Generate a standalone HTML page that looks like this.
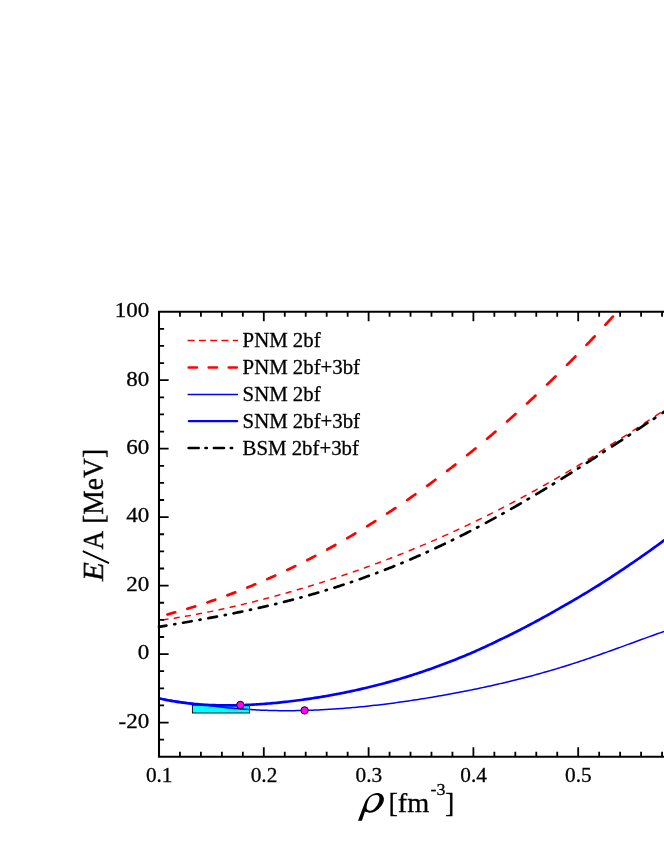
<!DOCTYPE html>
<html><head><meta charset="utf-8"><title>E/A vs density</title>
<style>html,body{margin:0;padding:0;background:#fff;}body{width:664px;height:860px;overflow:hidden;font-family:"Liberation Serif",serif;}svg{display:block;}text{font-family:"Liberation Serif",serif;fill:#000;stroke:#000;stroke-width:0.3px;}</style>
</head><body>
<svg width="664" height="860" viewBox="0 0 664 860">
<rect x="0" y="0" width="664" height="860" fill="#ffffff"/>
<rect x="192.4" y="705.1" width="57.2" height="7.9" fill="#00ffff" stroke="#000" stroke-width="0.9"/>
<path d="M159.00 698.76 L161.00 699.01 L162.99 699.27 L164.99 699.53 L166.98 699.80 L168.98 700.07 L170.98 700.34 L172.97 700.61 L174.97 700.89 L176.96 701.17 L178.96 701.45 L180.96 701.74 L182.95 702.02 L184.95 702.30 L186.95 702.59 L188.94 702.87 L190.94 703.15 L192.93 703.43 L194.93 703.71 L196.93 703.99 L198.92 704.26 L200.92 704.53 L202.91 704.80 L204.91 705.07 L206.91 705.33 L208.90 705.59 L210.90 705.85 L212.89 706.10 L214.89 706.35 L216.89 706.59 L218.88 706.83 L220.88 707.06 L222.87 707.29 L224.87 707.51 L226.87 707.71 L228.86 707.90 L230.86 708.08 L232.85 708.26 L234.85 708.44 L236.85 708.60 L238.84 708.76 L240.84 708.92 L242.84 709.07 L244.83 709.21 L246.83 709.35 L248.82 709.48 L250.82 709.60 L252.82 709.72 L254.81 709.83 L256.81 709.94 L258.80 710.04 L260.80 710.13 L262.80 710.21 L264.79 710.29 L266.79 710.36 L268.78 710.43 L270.78 710.49 L272.78 710.54 L274.77 710.58 L276.77 710.62 L278.76 710.65 L280.76 710.67 L282.76 710.69 L284.75 710.70 L286.75 710.70 L288.75 710.70 L290.74 710.69 L292.74 710.68 L294.73 710.65 L296.73 710.62 L298.73 710.59 L300.72 710.54 L302.72 710.50 L304.71 710.44 L306.71 710.38 L308.71 710.31 L310.70 710.24 L312.70 710.16 L314.69 710.07 L316.69 709.98 L318.69 709.88 L320.68 709.78 L322.68 709.69 L324.67 709.59 L326.67 709.48 L328.67 709.36 L330.66 709.25 L332.66 709.12 L334.65 708.99 L336.65 708.86 L338.65 708.72 L340.64 708.57 L342.64 708.42 L344.64 708.26 L346.63 708.10 L348.63 707.94 L350.62 707.77 L352.62 707.59 L354.62 707.41 L356.61 707.22 L358.61 707.04 L360.60 706.84 L362.60 706.64 L364.60 706.44 L366.59 706.23 L368.59 706.02 L370.58 705.80 L372.58 705.58 L374.58 705.36 L376.57 705.13 L378.57 704.90 L380.56 704.66 L382.56 704.42 L384.56 704.17 L386.55 703.93 L388.55 703.67 L390.55 703.42 L392.54 703.16 L394.54 702.89 L396.53 702.63 L398.53 702.35 L400.53 702.08 L402.52 701.80 L404.52 701.51 L406.51 701.22 L408.51 700.93 L410.51 700.63 L412.50 700.33 L414.50 700.02 L416.49 699.72 L418.49 699.41 L420.49 699.09 L422.48 698.77 L424.48 698.45 L426.47 698.13 L428.47 697.80 L430.47 697.47 L432.46 697.14 L434.46 696.80 L436.45 696.46 L438.45 696.11 L440.45 695.76 L442.44 695.41 L444.44 695.06 L446.44 694.70 L448.43 694.34 L450.43 693.97 L452.42 693.60 L454.42 693.23 L456.42 692.86 L458.41 692.48 L460.41 692.09 L462.40 691.71 L464.40 691.32 L466.40 690.92 L468.39 690.52 L470.39 690.12 L472.38 689.72 L474.38 689.31 L476.38 688.90 L478.37 688.48 L480.37 688.06 L482.36 687.64 L484.36 687.21 L486.36 686.78 L488.35 686.34 L490.35 685.90 L492.35 685.46 L494.34 685.01 L496.34 684.55 L498.33 684.10 L500.33 683.64 L502.33 683.17 L504.32 682.70 L506.32 682.23 L508.31 681.75 L510.31 681.27 L512.31 680.78 L514.30 680.29 L516.30 679.79 L518.29 679.29 L520.29 678.78 L522.29 678.27 L524.28 677.76 L526.28 677.24 L528.27 676.71 L530.27 676.18 L532.27 675.65 L534.26 675.11 L536.26 674.56 L538.25 674.01 L540.25 673.46 L542.25 672.90 L544.24 672.34 L546.24 671.77 L548.24 671.19 L550.23 670.61 L552.23 670.03 L554.22 669.44 L556.22 668.85 L558.22 668.25 L560.21 667.64 L562.21 667.03 L564.20 666.41 L566.20 665.79 L568.20 665.16 L570.19 664.52 L572.19 663.89 L574.18 663.24 L576.18 662.60 L578.18 661.94 L580.17 661.29 L582.17 660.62 L584.16 659.96 L586.16 659.29 L588.16 658.61 L590.15 657.93 L592.15 657.25 L594.15 656.56 L596.14 655.87 L598.14 655.18 L600.13 654.48 L602.13 653.78 L604.13 653.07 L606.12 652.37 L608.12 651.66 L610.11 650.94 L612.11 650.23 L614.11 649.51 L616.10 648.78 L618.10 648.06 L620.09 647.34 L622.09 646.61 L624.09 645.88 L626.08 645.15 L628.08 644.42 L630.07 643.69 L632.07 642.96 L634.07 642.23 L636.06 641.49 L638.06 640.76 L640.05 640.03 L642.05 639.31 L644.05 638.58 L646.04 637.85 L648.04 637.13 L650.04 636.41 L652.03 635.69 L654.03 634.98 L656.02 634.27 L658.02 633.57 L660.02 632.87 L662.01 632.17 L664.01 631.48 L666.00 630.81 L668.00 630.14" fill="none" stroke="#0000ff" stroke-width="1.5"/>
<path d="M159.00 698.32 L161.00 698.79 L162.99 699.24 L164.99 699.67 L166.98 700.08 L168.98 700.48 L170.98 700.85 L172.97 701.21 L174.97 701.54 L176.96 701.86 L178.96 702.17 L180.96 702.46 L182.95 702.73 L184.95 702.99 L186.95 703.23 L188.94 703.46 L190.94 703.67 L192.93 703.87 L194.93 704.05 L196.93 704.22 L198.92 704.38 L200.92 704.53 L202.91 704.66 L204.91 704.78 L206.91 704.89 L208.90 704.99 L210.90 705.07 L212.89 705.15 L214.89 705.21 L216.89 705.26 L218.88 705.31 L220.88 705.34 L222.87 705.36 L224.87 705.37 L226.87 705.38 L228.86 705.37 L230.86 705.35 L232.85 705.33 L234.85 705.29 L236.85 705.25 L238.84 705.20 L240.84 705.14 L242.84 705.07 L244.83 705.00 L246.83 704.92 L248.82 704.83 L250.82 704.73 L252.82 704.62 L254.81 704.51 L256.81 704.39 L258.80 704.26 L260.80 704.12 L262.80 703.98 L264.79 703.83 L266.79 703.68 L268.78 703.51 L270.78 703.34 L272.78 703.16 L274.77 702.98 L276.77 702.79 L278.76 702.59 L280.76 702.39 L282.76 702.18 L284.75 701.96 L286.75 701.74 L288.75 701.51 L290.74 701.27 L292.74 701.03 L294.73 700.78 L296.73 700.53 L298.73 700.27 L300.72 700.00 L302.72 699.72 L304.71 699.44 L306.71 699.16 L308.71 698.87 L310.70 698.57 L312.70 698.26 L314.69 697.95 L316.69 697.64 L318.69 697.31 L320.68 696.99 L322.68 696.65 L324.67 696.31 L326.67 695.97 L328.67 695.61 L330.66 695.26 L332.66 694.89 L334.65 694.52 L336.65 694.14 L338.65 693.76 L340.64 693.37 L342.64 692.98 L344.64 692.57 L346.63 692.17 L348.63 691.75 L350.62 691.33 L352.62 690.90 L354.62 690.47 L356.61 690.03 L358.61 689.58 L360.60 689.13 L362.60 688.67 L364.60 688.20 L366.59 687.73 L368.59 687.25 L370.58 686.77 L372.58 686.28 L374.58 685.78 L376.57 685.27 L378.57 684.76 L380.56 684.24 L382.56 683.71 L384.56 683.18 L386.55 682.64 L388.55 682.10 L390.55 681.55 L392.54 680.99 L394.54 680.42 L396.53 679.85 L398.53 679.27 L400.53 678.68 L402.52 678.08 L404.52 677.47 L406.51 676.85 L408.51 676.23 L410.51 675.60 L412.50 674.97 L414.50 674.33 L416.49 673.68 L418.49 673.02 L420.49 672.35 L422.48 671.68 L424.48 671.01 L426.47 670.32 L428.47 669.63 L430.47 668.93 L432.46 668.22 L434.46 667.51 L436.45 666.78 L438.45 666.05 L440.45 665.32 L442.44 664.58 L444.44 663.83 L446.44 663.07 L448.43 662.30 L450.43 661.53 L452.42 660.75 L454.42 659.96 L456.42 659.17 L458.41 658.37 L460.41 657.56 L462.40 656.74 L464.40 655.92 L466.40 655.09 L468.39 654.25 L470.39 653.40 L472.38 652.53 L474.38 651.65 L476.38 650.77 L478.37 649.87 L480.37 648.97 L482.36 648.06 L484.36 647.15 L486.36 646.23 L488.35 645.30 L490.35 644.36 L492.35 643.42 L494.34 642.46 L496.34 641.51 L498.33 640.54 L500.33 639.57 L502.33 638.61 L504.32 637.65 L506.32 636.68 L508.31 635.70 L510.31 634.71 L512.31 633.72 L514.30 632.72 L516.30 631.71 L518.29 630.70 L520.29 629.68 L522.29 628.65 L524.28 627.62 L526.28 626.58 L528.27 625.53 L530.27 624.48 L532.27 623.42 L534.26 622.35 L536.26 621.28 L538.25 620.20 L540.25 619.11 L542.25 618.02 L544.24 616.92 L546.24 615.81 L548.24 614.70 L550.23 613.58 L552.23 612.46 L554.22 611.33 L556.22 610.19 L558.22 609.05 L560.21 607.91 L562.21 606.78 L564.20 605.65 L566.20 604.51 L568.20 603.36 L570.19 602.21 L572.19 601.05 L574.18 599.89 L576.18 598.72 L578.18 597.55 L580.17 596.37 L582.17 595.18 L584.16 593.99 L586.16 592.79 L588.16 591.59 L590.15 590.38 L592.15 589.16 L594.15 587.94 L596.14 586.71 L598.14 585.48 L600.13 584.24 L602.13 582.96 L604.13 581.68 L606.12 580.39 L608.12 579.10 L610.11 577.80 L612.11 576.50 L614.11 575.19 L616.10 573.87 L618.10 572.55 L620.09 571.22 L622.09 569.88 L624.09 568.54 L626.08 567.20 L628.08 565.84 L630.07 564.49 L632.07 563.12 L634.07 561.75 L636.06 560.38 L638.06 558.99 L640.05 557.60 L642.05 556.21 L644.05 554.81 L646.04 553.40 L648.04 551.98 L650.04 550.56 L652.03 549.13 L654.03 547.70 L656.02 546.26 L658.02 544.81 L660.02 543.35 L662.01 541.89 L664.01 540.42 L666.00 538.95 L668.00 537.47" fill="none" stroke="#0000ff" stroke-width="2.7"/>
<path d="M163.14 619.81 L164.32 619.64 L165.50 619.47 L166.68 619.30 L167.86 619.13 M174.33 618.14 L175.51 617.96 L176.69 617.77 L177.87 617.58 L179.05 617.38 M185.52 616.29 L186.70 616.09 L187.88 615.88 L189.06 615.67 L190.24 615.46 M196.71 614.28 L197.89 614.06 L199.07 613.83 L200.25 613.60 L201.43 613.38 M207.90 612.10 L209.08 611.86 L210.26 611.62 L211.44 611.38 L212.63 611.14 M219.08 609.78 L220.27 609.52 L221.45 609.27 L222.63 609.01 L223.82 608.75 M230.27 607.31 L231.46 607.04 L232.64 606.77 L233.83 606.49 L235.01 606.22 M241.46 604.70 L242.65 604.42 L243.83 604.14 L245.02 603.85 L246.20 603.56 M252.65 601.97 L253.83 601.67 L255.02 601.37 L256.21 601.07 L257.39 600.77 M263.84 599.11 L265.02 598.80 L266.21 598.49 L267.40 598.17 L268.59 597.86 M275.02 596.12 L276.21 595.80 L277.40 595.47 L278.59 595.15 L279.78 594.82 M286.21 593.02 L287.40 592.68 L288.59 592.34 L289.78 592.00 L290.97 591.66 M297.40 589.79 L298.59 589.44 L299.78 589.09 L300.97 588.74 L302.16 588.38 M308.59 586.45 L309.78 586.09 L310.97 585.72 L312.16 585.35 L313.35 584.99 M319.78 582.98 L320.97 582.61 L322.16 582.23 L323.35 581.85 L324.55 581.47 M330.96 579.40 L332.16 579.01 L333.35 578.62 L334.54 578.23 L335.74 577.83 M342.15 575.69 L343.35 575.29 L344.54 574.88 L345.74 574.48 L346.93 574.07 M353.34 571.86 L354.53 571.45 L355.73 571.03 L356.93 570.61 L358.12 570.19 M364.53 567.91 L365.72 567.48 L366.92 567.04 L368.12 566.61 L369.32 566.17 M375.71 563.82 L376.91 563.38 L378.11 562.93 L379.31 562.48 L380.51 562.03 M386.90 559.61 L388.10 559.15 L389.30 558.69 L390.50 558.22 L391.70 557.76 M398.09 555.26 L399.29 554.78 L400.49 554.31 L401.69 553.83 L402.89 553.35 M409.27 550.77 L410.48 550.28 L411.68 549.79 L412.88 549.30 L414.09 548.80 M420.46 546.15 L421.67 545.65 L422.87 545.14 L424.08 544.63 L425.28 544.12 M431.65 541.39 L432.85 540.86 L434.06 540.34 L435.27 539.82 L436.47 539.29 M442.84 536.48 L444.04 535.94 L445.25 535.40 L446.46 534.86 L447.67 534.31 M454.02 531.43 L455.23 530.87 L456.44 530.31 L457.65 529.75 L458.86 529.19 M465.21 526.22 L466.42 525.65 L467.63 525.08 L468.84 524.50 L470.05 523.93 M476.40 520.88 L477.61 520.29 L478.82 519.70 L480.03 519.10 L481.25 518.51 M487.58 515.38 L488.80 514.77 L490.01 514.16 L491.23 513.55 L492.44 512.94 M498.77 509.73 L499.98 509.11 L501.20 508.48 L502.42 507.86 L503.63 507.23 M509.95 503.94 L511.17 503.30 L512.39 502.65 L513.61 502.01 L514.83 501.37 M521.14 498.00 L522.36 497.34 L523.58 496.68 L524.80 496.02 L526.02 495.36 M532.33 491.91 L533.55 491.24 L534.77 490.56 L535.99 489.89 L537.21 489.21 M543.51 485.69 L544.74 485.00 L545.96 484.30 L547.18 483.61 L548.41 482.92 M554.70 479.32 L555.93 478.62 L557.15 477.91 L558.38 477.20 L559.60 476.50 M565.89 472.83 L567.11 472.11 L568.34 471.39 L569.57 470.67 L570.79 469.94 M577.07 466.22 L578.30 465.48 L579.53 464.75 L580.76 464.01 L581.99 463.27 M588.26 459.49 L589.49 458.74 L590.73 457.95 L591.96 457.15 L593.19 456.34 M599.44 452.22 L600.67 451.40 L601.91 450.58 L603.14 449.76 L604.38 448.94 M610.64 445.00 L611.87 444.23 L613.10 443.45 L614.33 442.68 L615.57 441.90 M621.82 437.95 L623.06 437.17 L624.29 436.38 L625.52 435.60 L626.76 434.81 M633.00 430.75 L634.24 429.92 L635.48 429.10 L636.72 428.27 L637.96 427.44 M644.19 423.27 L645.43 422.44 L646.67 421.63 L647.90 420.84 L649.14 420.04 M655.39 416.03 L656.63 415.23 L657.86 414.44 L659.09 413.64 L660.33 412.85 M666.58 408.83 L668.00 407.92" fill="none" stroke="#ff0000" stroke-width="1.5" stroke-linecap="round"/>
<path d="M167.41 614.43 L168.70 614.08 L170.00 613.73 L171.30 613.38 L172.60 613.03 L173.90 612.67 L175.20 612.31 M187.39 608.77 L188.70 608.38 L190.00 607.98 L191.30 607.58 L192.61 607.18 L193.91 606.77 L195.21 606.37 M207.38 602.41 L208.69 601.97 L210.00 601.53 L211.30 601.08 L212.61 600.63 L213.92 600.18 L215.23 599.72 M227.37 595.34 L228.68 594.86 L229.99 594.36 L231.30 593.87 L232.62 593.37 L233.93 592.87 L235.24 592.37 M247.35 587.58 L248.67 587.04 L249.99 586.50 L251.30 585.96 L252.62 585.41 L253.94 584.86 L255.26 584.31 M267.34 579.11 L268.66 578.52 L269.98 577.94 L271.30 577.34 L272.63 576.75 L273.95 576.15 L275.27 575.55 M287.32 569.94 L288.65 569.31 L289.98 568.67 L291.30 568.03 L292.63 567.38 L293.96 566.74 L295.29 566.09 M307.30 560.07 L308.64 559.38 L309.97 558.70 L311.30 558.00 L312.64 557.31 L313.97 556.61 L315.31 555.91 M327.29 549.49 L328.63 548.75 L329.96 548.01 L331.30 547.27 L332.64 546.53 L333.98 545.78 L335.32 545.03 M347.27 538.20 L348.61 537.41 L349.96 536.62 L351.30 535.83 L352.65 535.03 L354.00 534.23 L355.34 533.43 M367.25 526.19 L368.60 525.35 L369.95 524.51 L371.30 523.67 L372.66 522.82 L374.01 521.97 L375.36 521.11 M387.23 513.47 L388.59 512.57 L389.95 511.68 L391.30 510.78 L392.66 509.88 L394.02 508.98 L395.38 508.07 M407.21 500.01 L408.58 499.07 L409.94 498.12 L411.30 497.16 L412.67 496.21 L414.03 495.25 L415.40 494.29 M427.19 485.82 L428.56 484.82 L429.93 483.81 L431.31 482.81 L432.68 481.80 L434.05 480.78 L435.42 479.76 M447.17 470.88 L448.55 469.83 L449.93 468.76 L451.31 467.70 L452.68 466.63 L454.06 465.56 L455.44 464.48 M467.15 455.19 L468.54 454.07 L469.92 452.95 L471.31 451.83 L472.69 450.70 L474.07 449.57 L475.46 448.44 M487.13 438.73 L488.52 437.55 L489.91 436.37 L491.31 435.19 L492.70 434.00 L494.09 432.81 L495.48 431.62 M507.11 421.48 L508.51 420.25 L509.91 419.01 L511.31 417.76 L512.70 416.52 L514.10 415.27 L515.50 414.01 M527.09 403.44 L528.50 402.15 L529.90 400.84 L531.31 399.54 L532.71 398.23 L534.11 396.92 L535.52 395.60 M547.07 384.60 L548.48 383.24 L549.89 381.87 L551.31 380.50 L552.72 379.12 L554.13 377.75 L555.54 376.36 M567.05 364.92 L568.45 363.52 L569.84 362.12 L571.23 360.70 L572.62 359.29 L574.01 357.87 L575.41 356.45 M586.53 344.93 L587.89 343.51 L589.25 342.08 L590.61 340.65 L591.96 339.21 L593.32 337.78 L594.68 336.33 M605.31 324.88 L606.58 323.51 L607.84 322.13 L609.10 320.74 L610.37 319.36 L611.63 317.96 L612.89 316.57" fill="none" stroke="#ff0000" stroke-width="2.7" stroke-linecap="round"/>
<path d="M159.00 626.80 L160.47 626.55 L161.94 626.31 L163.40 626.06 L164.87 625.81 L166.34 625.56 M174.23 624.22 L175.27 624.05 M183.03 622.71 L184.47 622.46 L185.90 622.21 L187.34 621.96 L188.78 621.71 L190.21 621.46 L191.65 621.21 M199.48 619.81 L200.52 619.62 M208.28 618.21 L209.73 617.94 L211.17 617.67 L212.62 617.40 L214.07 617.13 L215.52 616.85 L216.96 616.58 M224.73 615.08 L225.78 614.87 M233.52 613.33 L234.98 613.03 L236.44 612.73 L237.90 612.44 L239.36 612.13 L240.82 611.83 L242.28 611.53 M249.97 609.88 L251.03 609.65 M258.77 607.94 L260.24 607.61 L261.71 607.27 L263.18 606.94 L264.65 606.60 L266.12 606.26 L267.59 605.91 M275.21 604.10 L276.29 603.84 M284.01 601.92 L285.49 601.54 L286.98 601.17 L288.46 600.79 L289.94 600.40 L291.43 600.02 L292.91 599.63 M300.45 597.61 L301.55 597.31 M309.25 595.17 L310.75 594.74 L312.24 594.31 L313.74 593.88 L315.24 593.45 L316.73 593.01 L318.23 592.57 M325.69 590.33 L326.81 589.99 M334.49 587.59 L335.78 587.18 L337.08 586.77 L338.37 586.35 L339.67 585.93 L340.96 585.51 L342.26 585.09 L343.55 584.66 M350.93 582.19 L352.07 581.80 M359.72 579.15 L361.03 578.68 L362.34 578.22 L363.65 577.75 L364.95 577.28 L366.26 576.81 L367.57 576.33 L368.87 575.86 M376.16 573.15 L377.34 572.70 M384.96 569.77 L386.28 569.26 L387.60 568.74 L388.92 568.22 L390.24 567.69 L391.56 567.17 L392.88 566.64 L394.20 566.11 M401.40 563.16 L402.60 562.66 M410.19 559.46 L411.53 558.89 L412.86 558.31 L414.19 557.74 L415.53 557.16 L416.86 556.57 L418.19 555.99 L419.53 555.40 M426.63 552.23 L427.87 551.66 M435.42 548.19 L436.77 547.56 L438.12 546.93 L439.46 546.30 L440.81 545.66 L442.16 545.03 L443.50 544.38 L444.85 543.74 M451.86 540.35 L453.14 539.72 M460.66 535.99 L462.02 535.31 L463.38 534.62 L464.74 533.93 L466.10 533.24 L467.46 532.55 L468.82 531.85 L470.18 531.15 M477.10 527.55 L478.41 526.86 M485.89 522.89 L487.26 522.15 L488.64 521.41 L490.01 520.67 L491.38 519.92 L492.76 519.17 L494.13 518.42 L495.50 517.67 M502.33 513.89 L503.67 513.14 M511.12 508.94 L512.51 508.15 L513.90 507.36 L515.28 506.56 L516.67 505.77 L518.05 504.97 L519.44 504.17 L520.83 503.36 M527.56 499.43 L528.94 498.62 M536.36 494.21 L537.76 493.38 L539.16 492.54 L540.56 491.70 L541.95 490.85 L543.35 490.01 L544.75 489.16 L546.15 488.31 M552.80 484.25 L554.20 483.39 M561.60 478.81 L563.01 477.93 L564.42 477.05 L565.83 476.17 L567.24 475.28 L568.65 474.40 L570.06 473.51 L571.47 472.62 M578.04 468.46 L579.46 467.55 M586.84 462.83 L588.26 461.92 L589.68 461.00 L591.10 460.08 L592.52 459.17 L593.94 458.25 L595.37 457.33 L596.79 456.40 M603.28 452.18 L604.72 451.24 M612.08 446.42 L613.51 445.47 L614.94 444.53 L616.37 443.59 L617.81 442.65 L619.24 441.70 L620.67 440.76 L622.10 439.81 M628.53 435.56 L629.98 434.60 M637.32 429.71 L638.77 428.75 L640.21 427.80 L641.65 426.84 L643.09 425.88 L644.53 424.92 L645.97 423.96 L647.41 423.00 M653.77 418.76 L655.23 417.79 M662.57 412.89 L663.93 411.99 L665.29 411.09 L666.64 410.18 L668.00 409.28" fill="none" stroke="#000" stroke-width="2.7" stroke-linecap="round"/>
<circle cx="240.3" cy="705.0" r="3.7" fill="#ff00ff" stroke="#000" stroke-width="1"/>
<circle cx="304.6" cy="710.4" r="3.7" fill="#ff00ff" stroke="#000" stroke-width="1"/>
<path d="M159.00 311.70 L159.00 756.82 M159.00 311.70 L669.00 311.70 M159.00 756.82 L669.00 756.82" fill="none" stroke="#000" stroke-width="2.05" stroke-linecap="square"/>
<path d="M179.96 756.82 V751.72 M179.96 311.70 V316.80 M200.92 756.82 V751.72 M200.92 311.70 V316.80 M221.88 756.82 V751.72 M221.88 311.70 V316.80 M242.84 756.82 V751.72 M242.84 311.70 V316.80 M263.80 756.82 V747.22 M263.80 311.70 V321.30 M284.76 756.82 V751.72 M284.76 311.70 V316.80 M305.72 756.82 V751.72 M305.72 311.70 V316.80 M326.68 756.82 V751.72 M326.68 311.70 V316.80 M347.64 756.82 V751.72 M347.64 311.70 V316.80 M368.60 756.82 V747.22 M368.60 311.70 V321.30 M389.56 756.82 V751.72 M389.56 311.70 V316.80 M410.52 756.82 V751.72 M410.52 311.70 V316.80 M431.48 756.82 V751.72 M431.48 311.70 V316.80 M452.44 756.82 V751.72 M452.44 311.70 V316.80 M473.40 756.82 V747.22 M473.40 311.70 V321.30 M494.36 756.82 V751.72 M494.36 311.70 V316.80 M515.32 756.82 V751.72 M515.32 311.70 V316.80 M536.28 756.82 V751.72 M536.28 311.70 V316.80 M557.24 756.82 V751.72 M557.24 311.70 V316.80 M578.20 756.82 V747.22 M578.20 311.70 V321.30 M599.16 756.82 V751.72 M599.16 311.70 V316.80 M620.12 756.82 V751.72 M620.12 311.70 V316.80 M641.08 756.82 V751.72 M641.08 311.70 V316.80 M662.04 756.82 V751.72 M662.04 311.70 V316.80 M159.00 739.70 H164.10 M159.00 722.58 H168.60 M159.00 705.46 H164.10 M159.00 688.34 H164.10 M159.00 671.22 H164.10 M159.00 654.10 H168.60 M159.00 636.98 H164.10 M159.00 619.86 H164.10 M159.00 602.74 H164.10 M159.00 585.62 H168.60 M159.00 568.50 H164.10 M159.00 551.38 H164.10 M159.00 534.26 H164.10 M159.00 517.14 H168.60 M159.00 500.02 H164.10 M159.00 482.90 H164.10 M159.00 465.78 H164.10 M159.00 448.66 H168.60 M159.00 431.54 H164.10 M159.00 414.42 H164.10 M159.00 397.30 H164.10 M159.00 380.18 H168.60 M159.00 363.06 H164.10 M159.00 345.94 H164.10 M159.00 328.82 H164.10" fill="none" stroke="#000" stroke-width="1.8"/>
<g opacity="0.999">
<text transform="translate(149.2 727.9) scale(1.08 1)" font-size="21.3" text-anchor="end">-20</text>
<text transform="translate(149.2 659.4) scale(1.08 1)" font-size="21.3" text-anchor="end">0</text>
<text transform="translate(149.2 590.9) scale(1.08 1)" font-size="21.3" text-anchor="end">20</text>
<text transform="translate(149.2 522.4) scale(1.08 1)" font-size="21.3" text-anchor="end">40</text>
<text transform="translate(149.2 454.0) scale(1.08 1)" font-size="21.3" text-anchor="end">60</text>
<text transform="translate(149.2 385.5) scale(1.08 1)" font-size="21.3" text-anchor="end">80</text>
<text transform="translate(149.2 317.0) scale(1.08 1)" font-size="21.3" text-anchor="end">100</text>
<text transform="translate(159.2 782.4) scale(1.0 1)" font-size="21.3" text-anchor="middle">0.1</text>
<text transform="translate(264.0 782.4) scale(1.0 1)" font-size="21.3" text-anchor="middle">0.2</text>
<text transform="translate(368.8 782.4) scale(1.0 1)" font-size="21.3" text-anchor="middle">0.3</text>
<text transform="translate(473.6 782.4) scale(1.0 1)" font-size="21.3" text-anchor="middle">0.4</text>
<text transform="translate(578.4 782.4) scale(1.0 1)" font-size="21.3" text-anchor="middle">0.5</text>
<path d="M187.6 340.5 H238.0" stroke="#ff0000" stroke-width="1.5" stroke-dasharray="7 4.3" fill="none"/>
<path d="M188.7 367.5 H236.8" stroke="#ff0000" stroke-width="2.6" stroke-dasharray="8.3 11.7" stroke-linecap="round" fill="none"/>
<path d="M187.6 394.4 H238.0" stroke="#0000ff" stroke-width="1.5" fill="none"/>
<path d="M188.9 421.1 H237.1" stroke="#0000ff" stroke-width="2.4" stroke-linecap="round" fill="none"/>
<path d="M188.5 448.0 H198.8 M205.4 448.0 H206.9 M213.8 448.0 H224.1 M230.7 448.0 H232.2" stroke="#000" stroke-width="2.4" stroke-linecap="round" fill="none"/>
<text transform="translate(242.6 347.4) scale(1.04 1)" font-size="20">PNM 2bf</text>
<text transform="translate(242.6 374.4) scale(1.04 1)" font-size="20">PNM 2bf+3bf</text>
<text transform="translate(242.6 401.3) scale(1.04 1)" font-size="20">SNM 2bf</text>
<text transform="translate(242.6 428.0) scale(1.04 1)" font-size="20">SNM 2bf+3bf</text>
<text transform="translate(242.6 454.9) scale(1.04 1)" font-size="20">BSM 2bf+3bf</text>
<g transform="translate(102.9 0) rotate(-90)">
<text transform="translate(-581.0 0) scale(1.065 1.02)" font-size="29" font-style="italic">E</text>
<text transform="translate(-549.6 0) scale(0.890 1.02)" font-size="29">A</text>
<text transform="translate(-523.8 0) scale(0.950 1.02)" font-size="29">[MeV]</text>
</g>
<path d="M109.0 563.1 L82.8 551.1" stroke="#000" stroke-width="1.9" fill="none"/>
<path fill="#000" fill-rule="evenodd" d="M358.0 820.8 L361.9 820.8 L365.0 811.6 C367.5 813.2 371.5 813.2 375.0 811.4 C380.0 808.8 384.2 803.0 383.9 798.8 C383.7 795.2 381.0 792.9 377.3 792.9 C372.5 792.9 368.0 796.5 365.3 801.5 Z M376.3 795.0 C378.8 795.0 379.8 797.0 379.4 799.5 C378.8 803.5 376.0 808.0 372.8 810.0 C370.5 811.3 367.5 810.8 366.7 808.8 C366.2 806.5 367.5 802.0 369.2 798.8 C371.0 796.0 374.0 795.0 376.3 795.0 Z"/>
<text transform="translate(388.4 811.5) scale(1.01 1)" font-size="28">[fm</text>
<text transform="translate(430.5 795.1) scale(1.03 1)" font-size="17.5">-3</text>
<text transform="translate(444.9 811.5) scale(1.0 1)" font-size="28">]</text>
</g>
</svg>
</body></html>
